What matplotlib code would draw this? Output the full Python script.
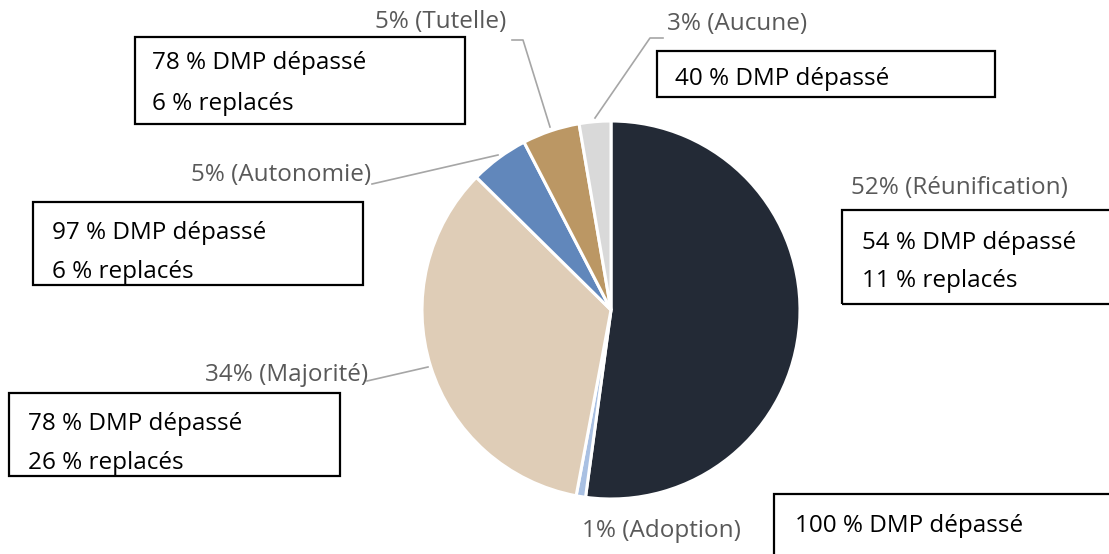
import matplotlib.pyplot as plt
from matplotlib.patches import Rectangle

plt.rcParams['font.family'] = ['Open Sans', 'DejaVu Sans']

# data
categories = ['Réunification', 'Adoption', 'Majorité', 'Autonomie', 'Tutelle', 'Aucune']
shares = [52.1, 0.8, 34.4, 5.0, 4.9, 2.7]
share_labels = ['52%', '1%', '34%', '5%', '5%', '3%']
dmp_depasse = [54, 100, 78, 97, 78, 40]
replaces = [11, None, 26, 6, 6, None]
colors = ['#232a36', '#a9c0e2', '#dfcdb7', '#6187bb', '#bb9764', '#d9d9d9']

W, H = 1109, 554
fig = plt.figure(figsize=(W / 100, H / 100), dpi=100)
ax = fig.add_axes([0, 0, 1, 1])
ax.set_xlim(0, W)
ax.set_ylim(0, H)
ax.axis('off')


def Y(y):
    # picture rows -> axis y
    return H - y


ax.pie(shares, colors=colors, startangle=90, counterclock=False,
       center=(611, Y(310)), radius=189,
       wedgeprops=dict(edgecolor='white', linewidth=2.2))
ax.set_xlim(0, W)
ax.set_ylim(0, H)
ax.set_aspect('equal')

gray = '#595959'
line_gray = '#a6a6a6'
fs = 17.5

# label position (x, y, ha) and leader line for each slice
label_pos = {
    'Réunification': (851, 188, 'left'),
    'Adoption': (741, 531, 'right'),
    'Majorité': (368, 375, 'right'),
    'Autonomie': (371, 175, 'right'),
    'Tutelle': (506, 22, 'right'),
    'Aucune': (667, 24, 'left'),
}
leaders = {
    'Majorité': [(367, 381), (428, 367)],
    'Autonomie': [(372, 184), (498, 155)],
    'Tutelle': [(512, 40), (523, 40), (550, 127)],
    'Aucune': [(663, 38), (650, 38), (595, 118)],
}

for cat, lab in zip(categories, share_labels):
    x, y, ha = label_pos[cat]
    ax.text(x, Y(y), f'{lab} ({cat})', ha=ha, va='center', fontsize=fs, color=gray)
    if cat in leaders:
        pts = leaders[cat]
        ax.plot([p[0] for p in pts], [Y(p[1]) for p in pts], color=line_gray, lw=1.2)

# annotation boxes: (x0, y0, x1, y1), text x, line rows
boxes = {
    'Tutelle': ((135, 37, 465, 124), 152, (63, 104)),
    'Aucune': ((657, 51, 995, 97), 675, (79,)),
    'Autonomie': ((33, 202, 363, 285), 52, (233, 272)),
    'Réunification': ((842, 210, 1125, 304), 862, (243, 281)),
    'Majorité': ((9, 393, 340, 476), 28, (424, 463)),
    'Adoption': ((774, 494, 1125, 570), 795, (526,)),
}

for cat, d, r in zip(categories, dmp_depasse, replaces):
    (x0, y0, x1, y1), tx, rows = boxes[cat]
    ax.add_patch(Rectangle((x0, Y(y1)), x1 - x0, y1 - y0, fill=False,
                           edgecolor='black', lw=1.6, clip_on=False))
    lines = [f'{d} % DMP dépassé']
    if r is not None:
        lines.append(f'{r} % replacés')
    for txt, ty in zip(lines, rows):
        ax.text(tx, Y(ty), txt, ha='left', va='center', fontsize=fs, color='black')

fig.savefig('out.png', dpi=100, facecolor='white')
